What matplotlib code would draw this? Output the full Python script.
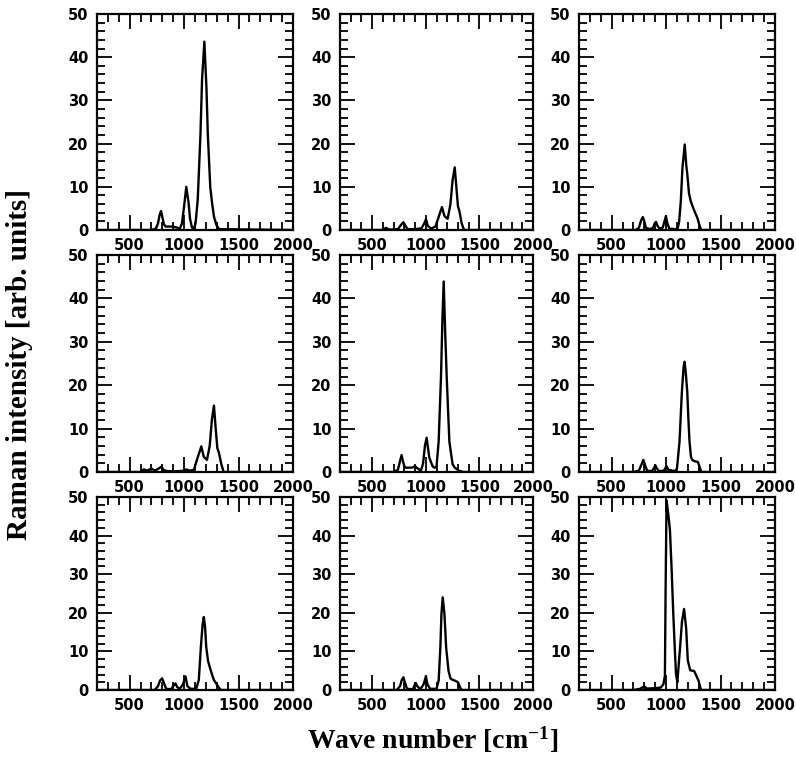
import matplotlib
matplotlib.use("Agg")
import matplotlib.pyplot as plt
from matplotlib.ticker import MultipleLocator

plt.rcParams['mathtext.fontset'] = 'custom'
plt.rcParams['mathtext.rm'] = 'Liberation Serif:bold'
plt.rcParams['mathtext.bf'] = 'Liberation Serif:bold'
plt.rcParams['mathtext.it'] = 'Liberation Serif:bold'

# ---------------- data ----------------
wn_1 = [200, 700, 740, 760, 775, 788, 800, 815, 830, 880, 930, 960, 980, 1000, 1020, 1040, 1055, 1072,
        1090, 1105, 1125, 1150, 1165, 1186, 1205, 1218, 1240, 1258, 1275, 1296, 1320, 2000]
int_1 = [0, 0, 0.3, 1.5, 3.5, 4.4, 3.0, 1.3, 0.8, 0.8, 0.6, 0.3, 1.5, 5.5, 10.0, 6.5, 2.5, 0.6,
         0.3, 1.5, 7.0, 22.0, 35.0, 43.6, 33.0, 22.0, 10.0, 6.0, 3.0, 1.2, 0.2, 0]

wn_2 = [200, 600, 627, 660, 740, 770, 790, 810, 830, 900, 960, 985, 1002, 1018, 1050, 1090, 1120,
        1151, 1175, 1204, 1230, 1250, 1270, 1285, 1300, 1313, 1335, 1357, 2000]
int_2 = [0, 0, 0.5, 0.1, 0.2, 1.2, 1.8, 1.0, 0.2, 0.2, 0.4, 1.5, 2.5, 1.0, 0.3, 0.8, 3.0,
         5.3, 3.2, 2.6, 6.0, 11.5, 14.5, 10.0, 5.5, 4.4, 1.5, 0, 0]

wn_3 = [200, 720, 750, 770, 786, 800, 815, 850, 880, 895, 907, 920, 940, 970, 985, 998, 1012, 1030,
        1090, 1105, 1120, 1135, 1150, 1171, 1185, 1195, 1210, 1226, 1250, 1270, 1287, 1305, 1323, 2000]
int_3 = [0, 0, 0.5, 2.2, 3.0, 2.0, 0.5, 0.2, 0.5, 1.5, 1.9, 1.0, 0.3, 0.6, 2.0, 3.2, 1.5, 0.3,
         0.2, 0.2, 2.0, 6.7, 14.4, 19.8, 15.0, 12.8, 8.5, 6.7, 5.0, 3.8, 2.8, 1.2, 0, 0]

wn_4 = [200, 600, 630, 660, 700, 730, 760, 790, 815, 850, 950, 1000, 1020, 1050, 1090, 1120, 1158,
        1180, 1210, 1235, 1255, 1274, 1290, 1305, 1320, 1340, 1363, 2000]
int_4 = [0, 0, 0.6, 0.3, 0.8, 0.3, 0.7, 1.2, 0.4, 0.2, 0.2, 0.3, 0.6, 0.3, 0.5, 3.0, 5.9,
         3.5, 2.8, 6.0, 12.0, 15.3, 10.0, 5.5, 4.4, 2.0, 0, 0]

wn_5 = [200, 700, 740, 760, 774, 790, 805, 830, 870, 899, 925, 955, 975, 992, 1008, 1033, 1064, 1080,
        1100, 1120, 1142, 1155, 1167, 1180, 1195, 1220, 1250, 1270, 1310, 1350, 2000]
int_5 = [0, 0, 0.5, 2.5, 3.9, 2.2, 1.0, 1.0, 1.0, 1.3, 0.8, 0.3, 2.0, 6.0, 7.9, 3.3, 1.3, 1.0,
         1.2, 7.0, 22.0, 35.0, 43.9, 33.0, 22.0, 7.0, 1.8, 1.0, 0.3, 0, 0]

wn_6 = [200, 700, 750, 770, 791, 808, 825, 870, 890, 902, 915, 935, 980, 995, 1006, 1020, 1080,
        1100, 1123, 1145, 1160, 1169, 1180, 1194, 1205, 1215, 1228, 1240, 1260, 1292, 1310, 1323, 2000]
int_6 = [0, 0, 0.3, 1.5, 2.8, 1.5, 0.3, 0.2, 1.0, 1.5, 0.8, 0.2, 0.3, 1.0, 1.3, 0.5, 0.2,
         0.8, 7.0, 18.6, 24.0, 25.4, 23.0, 18.6, 12.0, 7.0, 3.5, 2.8, 2.5, 2.3, 1.0, 0, 0]

wn_7 = [200, 730, 760, 780, 798, 815, 835, 880, 905, 921, 935, 960, 990, 1013, 1030, 1060, 1111,
        1135, 1154, 1170, 1181, 1192, 1203, 1220, 1243, 1273, 1304, 1335, 2000]
int_7 = [0, 0, 1.0, 2.5, 3.0, 1.8, 0.3, 0.2, 1.2, 1.7, 0.8, 0.3, 1.5, 3.5, 1.0, 0.3, 0.3,
         2.6, 11.2, 17.0, 18.9, 16.5, 11.2, 7.5, 5.2, 2.6, 1.3, 0, 0]

wn_8 = [200, 730, 760, 775, 791, 805, 825, 880, 895, 907, 920, 950, 980, 1001, 1015, 1040, 1100,
        1120, 1136, 1146, 1158, 1174, 1190, 1212, 1230, 1252, 1275, 1300, 1315, 1331, 2000]
int_8 = [0, 0, 1.0, 2.5, 3.3, 2.0, 0.3, 0.2, 1.2, 1.8, 1.0, 0.2, 1.5, 3.5, 1.5, 0.3, 0.3,
         2.4, 11.0, 19.7, 24.0, 19.7, 11.0, 5.0, 3.0, 2.6, 2.4, 2.0, 1.0, 0, 0]

wn_9 = [200, 700, 760, 790, 803, 820, 850, 900, 950, 975, 989, 995, 1004, 1020, 1035, 1051, 1066,
        1082, 1091, 1103, 1128, 1146, 1165, 1184, 1199, 1221, 1258, 1298, 1320, 2000]
int_9 = [0, 0, 0.3, 0.8, 0.9, 0.4, 0.4, 0.5, 0.6, 1.5, 3.7, 25.0, 49.1, 45.5, 41.5, 31.0, 19.6,
         9.3, 4.1, 2.0, 11.0, 17.8, 21.0, 16.0, 7.7, 5.1, 4.9, 2.4, 0, 0]

spectra = [(wn_1, int_1), (wn_2, int_2), (wn_3, int_3),
           (wn_4, int_4), (wn_5, int_5), (wn_6, int_6),
           (wn_7, int_7), (wn_8, int_8), (wn_9, int_9)]

x_ticks = [500, 1000, 1500, 2000]
y_ticks = [0, 10, 20, 30, 40, 50]

# ---------------- layout ----------------
W, H = 796, 758
fig = plt.figure(figsize=(W / 100, H / 100), dpi=100)

cols = [(97, 196), (340, 193), (579, 196)]          # left, width (px)
rows = [(14, 230), (255, 472), (497, 690)]          # top, bottom (px)

tick_font = dict(family='DejaVu Sans', weight='bold', size=10.5)

for i, (wn, inten) in enumerate(spectra):
    r, c = divmod(i, 3)
    left, width = cols[c]
    top, bottom = rows[r]
    ax = fig.add_axes([left / W, (H - bottom) / H, width / W, (bottom - top) / H])
    ax.plot(wn, inten, color='black', lw=1.7, solid_joinstyle='round')
    ax.set_xlim(200, 2000)
    ax.set_ylim(0, 50)
    ax.set_xticks(x_ticks)
    ax.set_yticks(y_ticks)
    ax.xaxis.set_minor_locator(MultipleLocator(100))
    ax.yaxis.set_minor_locator(MultipleLocator(2))
    ax.tick_params(which='both', direction='in', top=True, right=True, color='black')
    ax.tick_params(which='major', length=10.5, width=1.3)
    ax.tick_params(which='minor', length=5.5, width=1.3)
    ax.tick_params(axis='x', which='major', pad=6)
    ax.tick_params(axis='y', which='major', pad=6)
    for lab in ax.get_xticklabels() + ax.get_yticklabels():
        lab.set_fontfamily(tick_font['family'])
        lab.set_fontweight(tick_font['weight'])
        lab.set_fontsize(tick_font['size'])
    for s in ax.spines.values():
        s.set_linewidth(1.6)

fig.text(20 / W, 1 - 365 / H, 'Raman intensity [arb. units]', rotation=90,
         ha='center', va='center', family='Liberation Serif', weight='bold', size=21)
fig.text(433 / W, 1 - 740 / H, r'Wave number [cm$^{\mathregular{-1}}$]',
         ha='center', va='center', family='Liberation Serif', weight='bold', size=20)

fig.savefig('out.png', dpi=100, facecolor='white')
